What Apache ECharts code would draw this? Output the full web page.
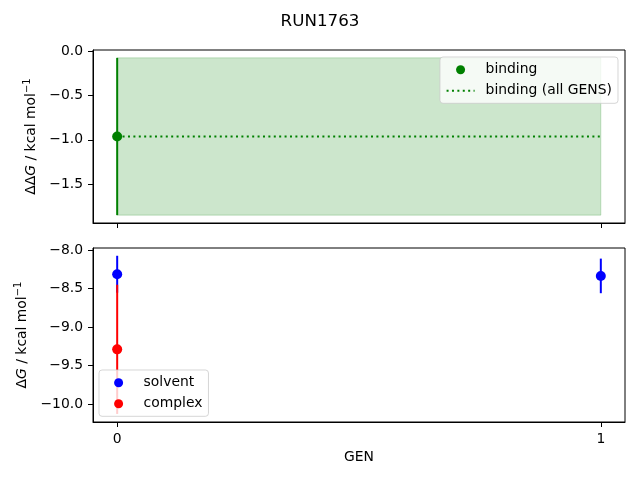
<!DOCTYPE html>
<html><head><meta charset="utf-8">
<script src="https://cdn.jsdelivr.net/npm/echarts@6/dist/echarts.min.js"></script>
<style>html,body{margin:0;padding:0;background:#fff;overflow:hidden}#c{width:640px;height:480px}</style>
</head><body><div id="c"></div>
<script>
const title = 'RUN1763';
const xTicks = [0, 1];
const bindingGen = [0];
const bindingValue = [-0.963];
const bindingError = [0.885];
const allGensRange = [0, 1];
const bindingAllGens = -0.963;
const bindingAllGensError = 0.885;
const solventGen = [0, 1];
const solventValue = [-8.313, -8.335];
const solventError = [0.24, 0.225];
const complexGen = [0];
const complexValue = [-9.29];
const complexError = [0.84];
const topTicks = [0.0, -0.5, -1.0, -1.5];
const bottomTicks = [-8.0, -8.5, -9.0, -9.5, -10.0];

const FONT = 'DejaVu Sans';
const FS = 13.9;
const fmt1 = v => (v < 0 ? '\u2212' : '') + Math.abs(v).toFixed(1);

function errData(g, v, e) { return g.map((x, i) => [x, v[i] - e[i], v[i] + e[i]]); }
function ptData(g, v) { return g.map((x, i) => [x, v[i]]); }
function errSeries(idx, data, color) {
  return {
    type: 'custom', xAxisIndex: idx, yAxisIndex: idx, data: data, silent: true,
    encode: { x: 0, y: [1, 2] },
    renderItem: function (params, api) {
      const p1 = api.coord([api.value(0), api.value(1)]);
      const p2 = api.coord([api.value(0), api.value(2)]);
      return { type: 'line', shape: { x1: p1[0], y1: p1[1], x2: p2[0], y2: p2[1] },
        style: { stroke: color, lineWidth: 2 } };
    }
  };
}
const richName = {
  d: { fontFamily: FONT, fontSize: FS, lineHeight: 18, color: '#000' },
  g: { fontFamily: FONT, fontSize: FS, fontStyle: 'italic', lineHeight: 18, color: '#000' },
  s: { fontFamily: FONT, fontSize: 10, lineHeight: 10, verticalAlign: 'top', color: '#000' }
};
function xAxis(idx, showLabel) {
  return {
    gridIndex: idx, type: 'value', min: -0.05, max: 1.05,
    axisLine: { show: true, onZero: false, lineStyle: { color: '#000', width: 1 } },
    axisTick: { show: true, customValues: xTicks, length: 5, lineStyle: { color: '#000' } },
    axisLabel: { show: showLabel, customValues: xTicks, margin: 10, color: '#000', fontFamily: FONT, fontSize: FS,
      formatter: v => String(Math.round(v)) },
    splitLine: { show: false },
    name: showLabel ? 'GEN' : '', nameLocation: 'middle', nameGap: 28,
    nameTextStyle: { color: '#000', fontFamily: FONT, fontSize: FS }
  };
}
function yAxis(idx, min, max, ticks, name, gap) {
  return {
    gridIndex: idx, type: 'value', min: min, max: max,
    axisLine: { show: true, onZero: false, lineStyle: { color: '#000', width: 1 } },
    axisTick: { show: true, customValues: ticks, length: 5, lineStyle: { color: '#000' } },
    axisLabel: { customValues: ticks, margin: 10, color: '#000', fontFamily: FONT, fontSize: FS, formatter: fmt1 },
    splitLine: { show: false },
    name: name, nameLocation: 'middle', nameRotate: 90, nameGap: gap,
    nameTextStyle: { rich: richName }
  };
}
const legendBase = {
  orient: 'vertical', itemWidth: 28, itemHeight: 9, itemGap: 7,
  backgroundColor: 'rgba(255,255,255,0.8)', borderColor: 'rgba(204,204,204,0.8)', borderWidth: 1, borderRadius: 3,
  textStyle: { fontFamily: FONT, fontSize: FS, color: '#000', lineHeight: 14, padding: [0, 0, 0, 6] }
};

const chart = echarts.init(document.getElementById('c'));
chart.setOption({
  animation: false,
  backgroundColor: '#fff',
  title: { text: title, left: 'center', top: 8,
    textStyle: { fontFamily: FONT, fontSize: 16.7, fontWeight: 'normal', color: '#000' } },
  grid: [
    { left: 93, top: 50, width: 532, height: 173, show: true, borderColor: '#000', borderWidth: 1, backgroundColor: 'transparent' },
    { left: 93, top: 248, width: 532, height: 174, show: true, borderColor: '#000', borderWidth: 1, backgroundColor: 'transparent' }
  ],
  xAxis: [xAxis(0, false), xAxis(1, true)],
  yAxis: [
    yAxis(0, -1.9365, 0.0105, topTicks, '{d|ΔΔ}{g|G}{d| / kcal mol}{s|\u22121}', 42.5),
    yAxis(1, -10.235, -7.972, bottomTicks, '{d|Δ}{g|G}{d| / kcal mol}{s|\u22121}', 45.6)
  ],
  legend: [
    Object.assign({}, legendBase, { right: 22, top: 57, padding: [5.7, 6, 5.6, 5.6],
      data: [{ name: 'binding', icon: 'circle' },
             { name: 'binding (all GENS)', itemStyle: { opacity: 0 } }] }),
    Object.assign({}, legendBase, { left: 99, top: 370, padding: [5.7, 6, 5.6, 15.1],
      data: [{ name: 'solvent', icon: 'circle' }, { name: 'complex', icon: 'circle' }] })
  ],
  series: [
    {
      name: 'binding (all GENS)', type: 'line', xAxisIndex: 0, yAxisIndex: 0, symbol: 'none',
      data: allGensRange.map(x => [x, bindingAllGens]),
      lineStyle: { color: 'green', width: 2, type: [2, 3.4] }, itemStyle: { color: 'green' },
      z: 3,
      markArea: { silent: true,
        itemStyle: { color: 'rgba(0,128,0,0.2)', borderColor: 'rgba(0,128,0,0.2)', borderWidth: 1 },
        data: [[{ coord: [allGensRange[0], bindingAllGens + bindingAllGensError] },
                { coord: [allGensRange[1], bindingAllGens - bindingAllGensError] }]] }
    },
    errSeries(0, errData(bindingGen, bindingValue, bindingError), 'green'),
    { name: 'binding', type: 'scatter', xAxisIndex: 0, yAxisIndex: 0, symbol: 'circle', symbolSize: 10,
      data: ptData(bindingGen, bindingValue), itemStyle: { color: 'green', opacity: 1 }, z: 4 },
    errSeries(1, errData(solventGen, solventValue, solventError), 'blue'),
    { name: 'solvent', type: 'scatter', xAxisIndex: 1, yAxisIndex: 1, symbol: 'circle', symbolSize: 10,
      data: ptData(solventGen, solventValue), itemStyle: { color: 'blue', opacity: 1 }, z: 3 },
    Object.assign(errSeries(1, errData(complexGen, complexValue, complexError), 'red'), { z: 3 }),
    { name: 'complex', type: 'scatter', xAxisIndex: 1, yAxisIndex: 1, symbol: 'circle', symbolSize: 10,
      data: ptData(complexGen, complexValue), itemStyle: { color: 'red', opacity: 1 }, z: 4 }
  ]
});
</script>
</body></html>
